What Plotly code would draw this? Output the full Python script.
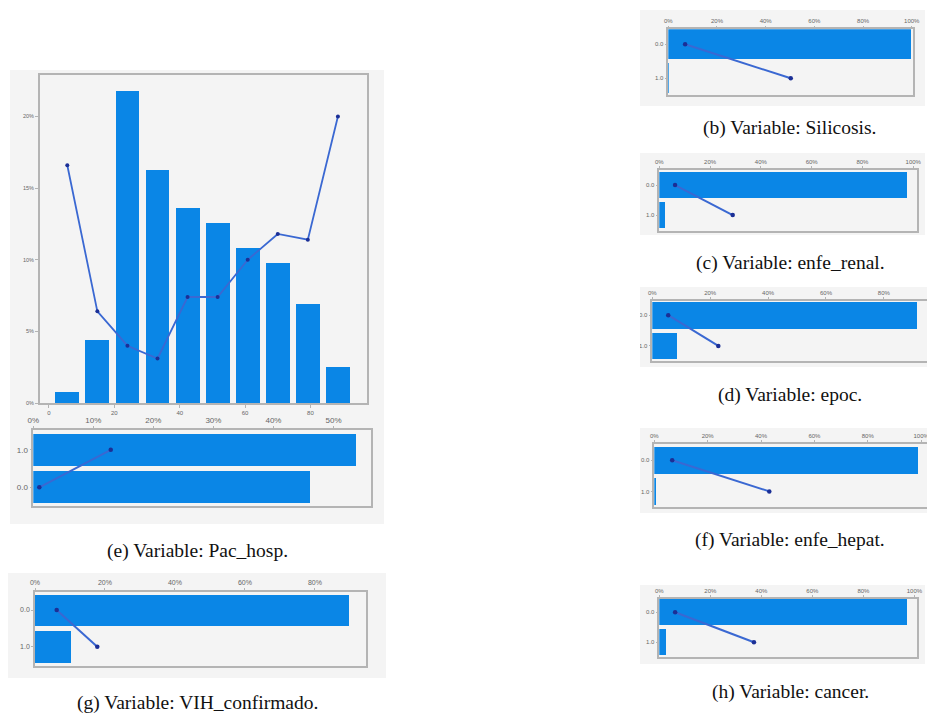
import plotly.graph_objects as go

# ---------------- data ----------------
# Age distribution (share of patients per age bin) and outcome rate per bin
edad_centros = [5.6, 14.8, 24.0, 33.2, 42.4, 51.6, 60.8, 70.0, 79.2, 88.4]
edad_pct = [0.8, 4.4, 21.8, 16.3, 13.6, 12.6, 10.8, 9.8, 6.9, 2.5]
edad_tasa = [16.6, 6.4, 4.0, 3.1, 7.4, 7.4, 10.0, 11.8, 11.4, 20.0]
edad_ticks = [0, 20, 40, 60, 80]
pct_ticks_a = [0, 5, 10, 15, 20]

# Binary variables: categories, share of patients and outcome rate per category
categorias = [0, 1]
etiquetas_cat = ["0.0", "1.0"]

silicosis_pct = [99.8, 0.2]
silicosis_tasa = [6.9, 50.3]

enfe_renal_pct = [97.6, 2.4]
enfe_renal_tasa = [6.2, 28.9]

epoc_pct = [91.5, 8.5]
epoc_tasa = [5.5, 22.8]

pac_hosp_pct = [46.2, 53.8]
pac_hosp_tasa = [1.0, 12.9]

enfe_hepat_pct = [99.1, 0.9]
enfe_hepat_tasa = [6.7, 43.1]

vih_pct = [89.7, 10.3]
vih_tasa = [6.2, 17.8]

cancer_pct = [97.2, 2.8]
cancer_tasa = [6.2, 37.1]

# ---------------- styling ----------------
W, H = 927, 715
BAR = "#0a86e6"
LINE = "#3a68d2"
DOT = "#1b2f96"
FRAME = "#b4b4b4"
TICK = "#666666"
PANEL_BG = "#f4f4f4"
SANS = "Liberation Sans, Arial, sans-serif"
SERIF = "Liberation Serif, DejaVu Serif, serif"


def px_x(p):
    return p / W


def px_y(p):
    return 1 - p / H


def pct_labels(vals):
    return [f"{v}%" for v in vals]


fig = go.Figure()
layout = dict(
    width=W, height=H,
    margin=dict(l=0, r=0, t=0, b=0, autoexpand=False),
    paper_bgcolor="white",
    plot_bgcolor="#fbfbfb",
    showlegend=False,
    bargap=0,
    shapes=[],
    annotations=[],
)


def add_panel_bg(x0, x1, y0, y1):
    layout["shapes"].append(dict(
        type="rect", xref="paper", yref="paper", layer="below",
        x0=px_x(x0), x1=px_x(x1), y0=px_y(y1), y1=px_y(y0),
        fillcolor=PANEL_BG, line=dict(width=0)))


def add_caption(text, cx, cy):
    layout["annotations"].append(dict(
        text=text, xref="paper", yref="paper", x=px_x(cx), y=px_y(cy),
        xanchor="center", yanchor="middle", showarrow=False,
        font=dict(family=SERIF, size=19.5, color="#111111")))


# ---------------- (a) age histogram ----------------
add_panel_bg(10, 384, 70, 413)
fig.add_trace(go.Bar(x=edad_centros, y=edad_pct, width=7.3,
                     marker=dict(color=BAR, line=dict(width=0)),
                     xaxis="x", yaxis="y"))
fig.add_trace(go.Scatter(x=edad_centros, y=edad_tasa, mode="lines+markers",
                         line=dict(color=LINE, width=1.8),
                         marker=dict(color=DOT, size=4),
                         xaxis="x", yaxis="y"))
layout["xaxis"] = dict(
    domain=[px_x(40), px_x(367)], range=[-2.75, 97.3], anchor="y",
    automargin=False,
    tickvals=edad_ticks, ticks="outside", ticklen=3, tickcolor=FRAME,
    showline=True, mirror=True, linecolor=FRAME, linewidth=2,
    showgrid=False, zeroline=False,
    tickfont=dict(family=SANS, size=6, color=TICK))
layout["yaxis"] = dict(
    domain=[px_y(403), px_y(75)], range=[0, 22.9], anchor="x",
    automargin=False,
    tickvals=pct_ticks_a, ticktext=pct_labels(pct_ticks_a),
    ticks="outside", ticklen=3,
    tickcolor=FRAME, showline=True, mirror=True, linecolor=FRAME, linewidth=2,
    showgrid=False, zeroline=False,
    tickfont=dict(family=SANS, size=5.5, color=TICK))

# ---------------- horizontal bar panels ----------------
panels = [
    dict(pct=pac_hosp_pct, tasa=pac_hosp_tasa, frame=(33.3, 370.7, 430, 506),
         xr=[0, 56.2], yr=[-0.5, 1.53], step=10, fs=8,
         bg=(10, 384, 413, 524), cap="(e) Variable: Pac_hosp.", cc=(197, 551),
         mirror=True),
    dict(pct=vih_pct, tasa=vih_tasa, frame=(35, 366, 591.7, 665.7),
         xr=[0, 94.6], yr=[1.52, -0.5], step=20, fs=7,
         bg=(8, 386, 573, 678), cap="(g) Variable: VIH_confirmado.",
         cc=(197, 703), mirror=True),
    dict(pct=silicosis_pct, tasa=silicosis_tasa, frame=(668.3, 912.7, 29.3, 95),
         xr=[0, 100.4], yr=[1.49, -0.44], step=20, fs=6,
         bg=(640, 925, 10, 106), cap="(b) Variable: Silicosis.", cc=(790, 128),
         mirror=True),
    dict(pct=enfe_renal_pct, tasa=enfe_renal_tasa, frame=(659.3, 917.3, 170, 231),
         xr=[0, 101.6], yr=[1.53, -0.5], step=20, fs=6,
         bg=(640, 925, 153, 235), cap="(c) Variable: enfe_renal.",
         cc=(790, 263), mirror=True),
    dict(pct=epoc_pct, tasa=epoc_tasa, frame=(652.3, 927, 300.7, 361),
         xr=[0, 94.9], yr=[1.49, -0.47], step=20, fs=6,
         bg=(640, 927, 287, 367), cap="(d) Variable: epoc.", cc=(790, 395),
         mirror=False),
    dict(pct=enfe_hepat_pct, tasa=enfe_hepat_tasa, frame=(654.3, 927, 444, 507.3),
         xr=[0, 102.2], yr=[1.51, -0.52], step=20, fs=6,
         bg=(640, 927, 428, 513), cap="(f) Variable: enfe_hepat.",
         cc=(790, 540), mirror=False),
    dict(pct=cancer_pct, tasa=cancer_tasa, frame=(659.3, 916.7, 599, 656.7),
         xr=[0, 100.9], yr=[1.48, -0.44], step=20, fs=6,
         bg=(640, 925, 585, 664), cap="(h) Variable: cancer.", cc=(790, 692),
         mirror=True),
]

for i, p in enumerate(panels, start=2):
    xa, ya = f"x{i}", f"y{i}"
    add_panel_bg(*p["bg"])
    fig.add_trace(go.Bar(y=categorias, x=p["pct"], orientation="h", width=0.86,
                         marker=dict(color=BAR, line=dict(width=0)),
                         xaxis=xa, yaxis=ya))
    fig.add_trace(go.Scatter(y=categorias, x=p["tasa"], mode="lines+markers",
                             line=dict(color=LINE, width=2),
                             marker=dict(color=DOT, size=4.5),
                             xaxis=xa, yaxis=ya))
    x0, x1, y0, y1 = p["frame"]
    ticks_x = list(range(0, 101, p["step"]))
    layout[f"xaxis{i}"] = dict(
        domain=[px_x(x0), min(px_x(x1), 1.0)], range=p["xr"], anchor=ya,
        automargin=False,
        side="top", tickvals=ticks_x, ticktext=pct_labels(ticks_x),
        ticks="outside", ticklen=2, tickcolor=FRAME,
        showline=True, mirror=True, linecolor=FRAME, linewidth=1.5,
        showgrid=False, zeroline=False, ticklabeloverflow="allow",
        tickfont=dict(family=SANS, size=p["fs"], color=TICK))
    layout[f"yaxis{i}"] = dict(
        domain=[px_y(y1), px_y(y0)], range=p["yr"], anchor=xa,
        automargin=False,
        tickvals=categorias, ticktext=etiquetas_cat,
        ticks="outside", ticklen=2, tickcolor=FRAME,
        showline=True, mirror=p["mirror"], linecolor=FRAME, linewidth=1.5,
        showgrid=False, zeroline=False,
        tickfont=dict(family=SANS, size=p["fs"], color=TICK))
    add_caption(p["cap"], *p["cc"])

# The epoc panel is cropped on its left edge, cutting its category labels
layout["shapes"].append(dict(
    type="rect", xref="paper", yref="paper", layer="above",
    x0=px_x(600), x1=px_x(640), y0=px_y(370), y1=px_y(285),
    fillcolor="white", line=dict(width=0)))

fig.update_layout(**layout)

# Tick labels cut at the right edge must not widen the page
clip_js = (
    "document.documentElement.style.overflow='hidden';"
    "document.body.style.overflow='hidden';"
    "var s=document.querySelectorAll('.main-svg');"
    "for(var k=0;k<s.length;k++){s[k].style.overflow='hidden';}"
)
fig.write_html("out.html", post_script=clip_js)
